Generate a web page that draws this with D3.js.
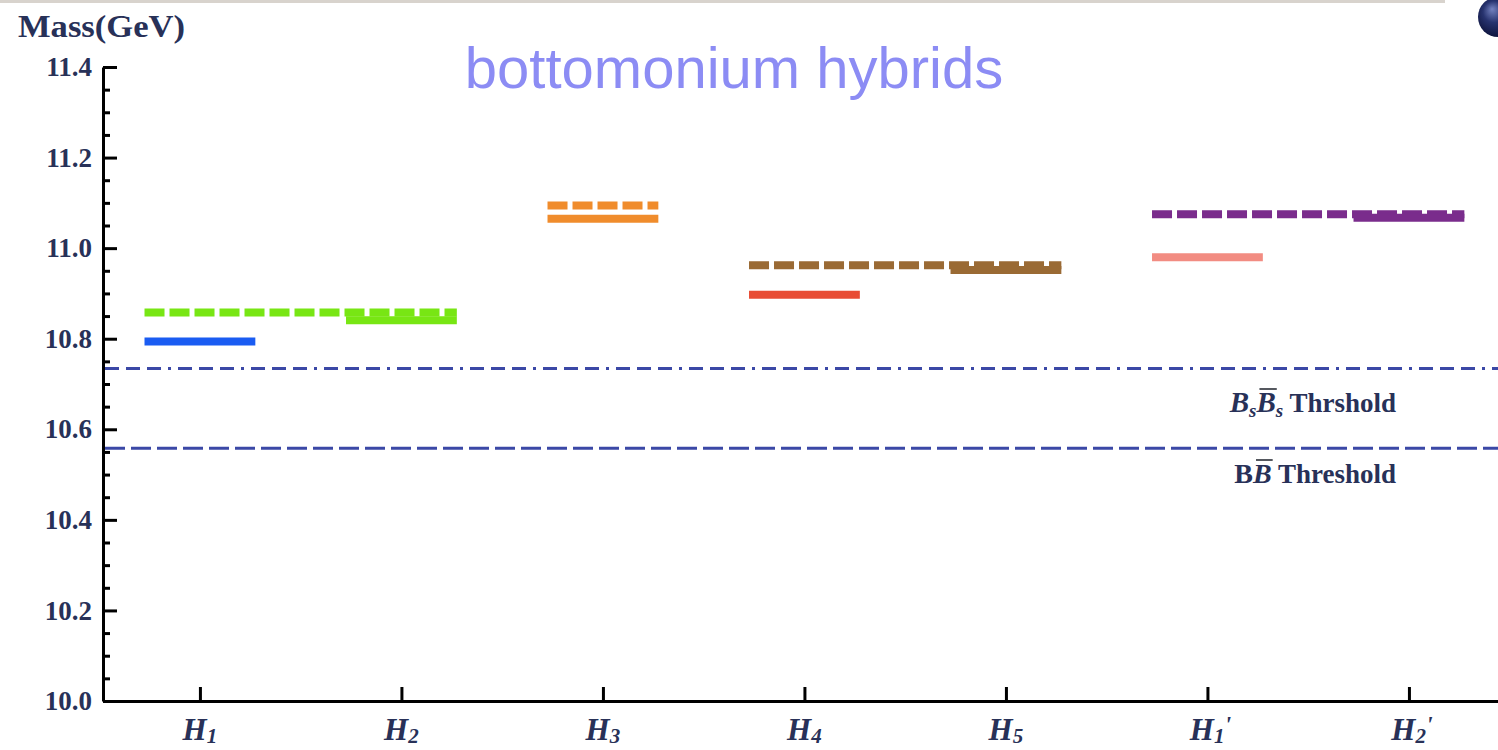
<!DOCTYPE html>
<html>
<head>
<meta charset="utf-8">
<script src="https://cdn.jsdelivr.net/npm/d3@7"></script>
<style>
  html, body { margin: 0; padding: 0; background: #ffffff; }
  svg { display: block; }
</style>
</head>
<body>
<svg id="chart" width="1498" height="750"></svg>
<script>
// Hybrid states along the x axis
const states = ["H1", "H2", "H3", "H4", "H5", "H1'", "H2'"];
const stateSub = ["1", "2", "3", "4", "5", "1", "2"];
const statePrime = [false, false, false, false, false, true, true];

// Solid mass levels, one per state (GeV)
const levelState = ["H1", "H2", "H3", "H4", "H5", "H1'", "H2'"];
const levelMass = [10.794, 10.841, 11.065, 10.897, 10.952, 10.980, 11.067];
const levelColor = ["#1a5cf2", "#78e614", "#f08c2c", "#e84c34", "#9a6a34", "#f28c82", "#7a2c8c"];

// Dashed mass levels spanning from one state to another (GeV)
const dashFrom = ["H1", "H3", "H4", "H1'"];
const dashTo = ["H2", "H3", "H5", "H2'"];
const dashMass = [10.858, 11.094, 10.962, 11.075];
const dashColor = ["#78e614", "#f08c2c", "#9a6a34", "#7a2c8c"];

// Open-flavour thresholds (GeV)
const thresholdMass = [10.734, 10.558];
const thresholdDash = ["14,7,14,7,14,7,3,7", "20,6"];

// Axis ticks
const yTicks = [10.0, 10.2, 10.4, 10.6, 10.8, 11.0, 11.2, 11.4];
const yMinorTicks = [10.05, 10.1, 10.15, 10.25, 10.3, 10.35, 10.45, 10.5, 10.55,
                     10.65, 10.7, 10.75, 10.85, 10.9, 10.95, 11.05, 11.1, 11.15,
                     11.25, 11.3, 11.35];

const svg = d3.select("#chart");
const textColor = "#283158";
const serif = "'Liberation Serif', 'Times New Roman', serif";

// Scales
const x = d3.scaleLinear().domain([-0.481, 6.442]).range([103, 1498]);
const y = d3.scaleLinear().domain([10.0, 11.4]).range([701, 67]);
const idx = s => states.indexOf(s);
const half = 0.275;

// Decorative strip and bullet at the top
const defs = svg.append("defs");
const grad = defs.append("radialGradient").attr("id", "ball")
  .attr("cx", "45%").attr("cy", "45%").attr("r", "60%")
  .attr("fx", "35%").attr("fy", "30%");
grad.append("stop").attr("offset", "0%").attr("stop-color", "#7482c0");
grad.append("stop").attr("offset", "45%").attr("stop-color", "#27336f");
grad.append("stop").attr("offset", "100%").attr("stop-color", "#0b1036");
svg.append("rect").attr("x", 0).attr("y", 0).attr("width", 1445).attr("height", 3)
  .attr("fill", "#d8d3cd");
svg.append("circle").attr("cx", 1498).attr("cy", 17).attr("r", 20).attr("fill", "url(#ball)");

// Title
svg.append("text")
  .attr("x", 734).attr("y", 88)
  .attr("text-anchor", "middle")
  .attr("font-family", "'Liberation Sans', Arial, sans-serif")
  .attr("font-size", 58)
  .attr("fill", "#8c8cf4")
  .text("bottomonium hybrids");

// Y axis (ticks point inward)
const yAxis = d3.axisLeft(y).tickValues(yTicks).tickSizeInner(-14).tickSizeOuter(0)
  .tickPadding(11).tickFormat(d3.format(".1f"));
const gy = svg.append("g").attr("transform", "translate(103,0)").call(yAxis);
gy.selectAll(".tick line").attr("stroke", "#000").attr("stroke-width", 3);
gy.select(".domain").attr("stroke", "#000").attr("stroke-width", 3);
gy.selectAll(".tick text")
  .attr("font-family", serif).attr("font-size", 27).attr("font-weight", "bold")
  .attr("fill", textColor);

const yMinor = d3.axisLeft(y).tickValues(yMinorTicks).tickSizeInner(-7).tickSizeOuter(0)
  .tickFormat("");
const gym = svg.append("g").attr("transform", "translate(103,0)").call(yMinor);
gym.select(".domain").remove();
gym.selectAll(".tick line").attr("stroke", "#000").attr("stroke-width", 3);

// Y axis title
svg.append("text")
  .attr("x", 18).attr("y", 37)
  .attr("font-family", serif).attr("font-size", 32).attr("font-weight", "bold")
  .attr("textLength", 167).attr("lengthAdjust", "spacingAndGlyphs")
  .attr("fill", textColor)
  .text("Mass(GeV)");

// X axis
const xAxis = d3.axisBottom(x).tickValues(d3.range(states.length)).tickSizeInner(-14)
  .tickSizeOuter(0).tickFormat("");
const gx = svg.append("g").attr("transform", "translate(0,701)").call(xAxis);
gx.selectAll(".tick line").attr("stroke", "#000").attr("stroke-width", 3);
gx.select(".domain").attr("stroke", "#000").attr("stroke-width", 3);

// State labels: italic H with subscript and optional prime
states.forEach((s, i) => {
  const t = svg.append("text")
    .attr("x", x(i) + (statePrime[i] ? 3 : 0)).attr("y", 740)
    .attr("text-anchor", "middle")
    .attr("font-family", serif).attr("font-weight", "bold").attr("font-style", "italic")
    .attr("fill", textColor);
  t.append("tspan").attr("font-size", 31).text("H");
  t.append("tspan").attr("font-size", 21).attr("dy", 3).text(stateSub[i]);
  if (statePrime[i]) {
    t.append("tspan").attr("font-size", 24).attr("dy", -11).text("'");
  }
});

// Threshold lines
thresholdMass.forEach((m, i) => {
  svg.append("line")
    .attr("x1", x.range()[0] + 2).attr("x2", x.range()[1])
    .attr("y1", y(m)).attr("y2", y(m))
    .attr("stroke", "#3b48a6").attr("stroke-width", 3)
    .attr("stroke-dasharray", thresholdDash[i]);
});

// Threshold labels
function thresholdLabel(baseline, parts, barChars) {
  const t = svg.append("text")
    .attr("x", 1396).attr("y", baseline)
    .attr("text-anchor", "end")
    .attr("font-family", serif).attr("font-weight", "bold")
    .attr("fill", textColor);
  parts.forEach(p => {
    const ts = t.append("tspan").attr("font-size", p.size).text(p.text);
    if (p.italic) ts.attr("font-style", "italic");
    if (p.dy) ts.attr("dy", p.dy);
  });
  const node = t.node();
  barChars.forEach(ci => {
    const r = node.getExtentOfChar(ci);
    svg.append("line")
      .attr("x1", r.x + 3).attr("x2", r.x + r.width + 1)
      .attr("y1", baseline - 23).attr("y2", baseline - 23)
      .attr("stroke", "#55585f").attr("stroke-width", 2);
  });
}

thresholdLabel(412, [
  { text: "B", size: 29, italic: true },
  { text: "s", size: 19, italic: true, dy: 5 },
  { text: "B", size: 29, italic: true, dy: -5 },
  { text: "s", size: 19, italic: true, dy: 5 },
  { text: " Thrshold", size: 27, dy: -5 }
], [2]);

thresholdLabel(483, [
  { text: "B", size: 28 },
  { text: "B", size: 28, italic: true },
  { text: " Threshold", size: 27 }
], [1]);

// Dashed levels spanning states
const dashG = svg.append("g");
dashMass.forEach((m, i) => {
  dashG.append("line")
    .attr("x1", x(idx(dashFrom[i]) - half)).attr("x2", x(idx(dashTo[i]) + half))
    .attr("y1", y(m)).attr("y2", y(m))
    .attr("stroke", dashColor[i]).attr("stroke-width", 8)
    .attr("stroke-dasharray", "20,5");
});

// Solid levels
const levelG = svg.append("g");
levelMass.forEach((m, i) => {
  const c = idx(levelState[i]);
  levelG.append("line")
    .attr("x1", x(c - half)).attr("x2", x(c + half))
    .attr("y1", y(m)).attr("y2", y(m))
    .attr("stroke", levelColor[i]).attr("stroke-width", 8);
});
</script>
</body>
</html>
